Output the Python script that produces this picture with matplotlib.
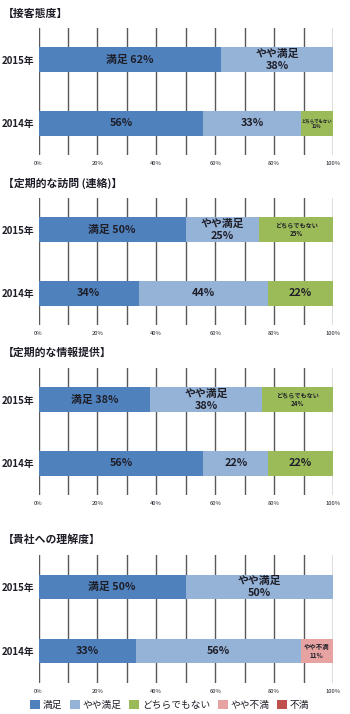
import matplotlib
matplotlib.use("Agg")
import matplotlib.pyplot as plt
from matplotlib.patches import Patch

plt.rcParams['font.family'] = ['Noto Sans CJK JP', 'DejaVu Sans']

# Survey answer categories and colours
categories = ['満足', 'やや満足', 'どちらでもない', 'やや不満', '不満']
colors = ['#4F81BD', '#95B3D7', '#9BBB59', '#E6A3A2', '#C0504D']

years = ['2014年', '2015年']

titles = ['【接客態度】', '【定期的な訪問 (連絡)】', '【定期的な情報提供】', '【貴社への理解度】']

# Percentages per panel: [2014 values, 2015 values], ordered as categories
values_service = [[56, 33, 11, 0, 0], [62, 38, 0, 0, 0]]
values_visit = [[34, 44, 22, 0, 0], [50, 25, 25, 0, 0]]
values_info = [[56, 22, 22, 0, 0], [38, 38, 24, 0, 0]]
values_understanding = [[33, 56, 0, 11, 0], [50, 50, 0, 0, 0]]
panel_values = [values_service, values_visit, values_info, values_understanding]

# Label style per segment: 'inline' = "name nn%", 'stacked' = "name\nnn%",
# 'value' = "nn%", ('small', size) = small stacked label
label_styles = [
    [['value', 'value', ('small', 3.2), None, None], ['inline', 'stacked', None, None, None]],
    [['value', 'value', 'value', None, None], ['inline', 'stacked', ('small', 4.4), None, None]],
    [['value', 'value', 'value', None, None], ['inline', 'stacked', ('small', 4.4), None, None]],
    [['value', 'value', None, ('small', 4.6), None], ['inline', 'stacked', None, None, None]],
]

ticks = [0, 20, 40, 60, 80, 100]
tick_labels = ['0%', '20%', '40%', '60%', '80%', '100%']

W, H = 350, 714
fig = plt.figure(figsize=(W / 100, H / 100), dpi=100)

# axes extents in pixels (top, bottom) and title baselines
axes_px = [(28, 155), (198, 325), (368, 495), (555, 683)]
title_px = [14, 183, 353, 540]
left_px, right_px = 38.5, 333

text_color = '#1E1E28'
grid_color = '#585858'

for p in range(4):
    top, bot = axes_px[p]
    ax = fig.add_axes([left_px / W, 1 - bot / H, (right_px - left_px) / W, (bot - top) / H])
    ax.set_xlim(0, 100)
    ax.set_ylim(-0.5, 1.5)
    for gx in range(0, 101, 10):
        ax.axvline(gx, color=grid_color, lw=1.0, zorder=1)
    for yi in range(2):
        vals = panel_values[p][yi]
        start = 0
        for ci, v in enumerate(vals):
            if v <= 0:
                continue
            ax.barh(yi, v, left=start, height=0.39, color=colors[ci], zorder=2, linewidth=0)
            style = label_styles[p][yi][ci]
            cx = start + v / 2
            if style == 'value':
                ax.text(cx, yi, f'{v}%', ha='center', va='center', fontsize=7.8,
                        fontweight='bold', color=text_color, zorder=3)
            elif style == 'inline':
                ax.text(cx, yi, f'{categories[ci]} {v}%', ha='center', va='center', fontsize=7.8,
                        fontweight='bold', color=text_color, zorder=3)
            elif style == 'stacked':
                ax.text(cx, yi, f'{categories[ci]}\n{v}%', ha='center', va='center', fontsize=7.8,
                        fontweight='bold', color=text_color, zorder=3, linespacing=1.3)
            elif isinstance(style, tuple):
                ax.text(cx, yi, f'{categories[ci]}\n{v}%', ha='center', va='center', fontsize=style[1],
                        fontweight='bold', color=text_color, zorder=3, linespacing=1.2)
            start += v
    for s in ax.spines.values():
        s.set_visible(False)
    ax.set_yticks([0, 1])
    ax.set_yticklabels(years, fontsize=7.0, fontweight='bold', color=text_color)
    ax.set_xticks(ticks)
    ax.set_xticklabels(tick_labels, fontsize=4.2, color=text_color)
    ax.tick_params(length=0, axis='both')
    ax.tick_params(axis='y', pad=3)
    ax.tick_params(axis='x', pad=4)
    fig.text(3 / W, 1 - title_px[p] / H, titles[p], fontsize=7.8, fontweight='bold',
             color=text_color, ha='left', va='center')

handles = [Patch(facecolor=c, edgecolor='none') for c in colors]
fig.legend(handles, categories, loc='center', bbox_to_anchor=(0.485, 1 - 705 / H), ncol=5,
           frameon=False, fontsize=7.0, handlelength=1.0, handleheight=1.0, handletextpad=0.3,
           columnspacing=0.8, borderpad=0, labelcolor=text_color)

fig.savefig('out.png', dpi=100)
